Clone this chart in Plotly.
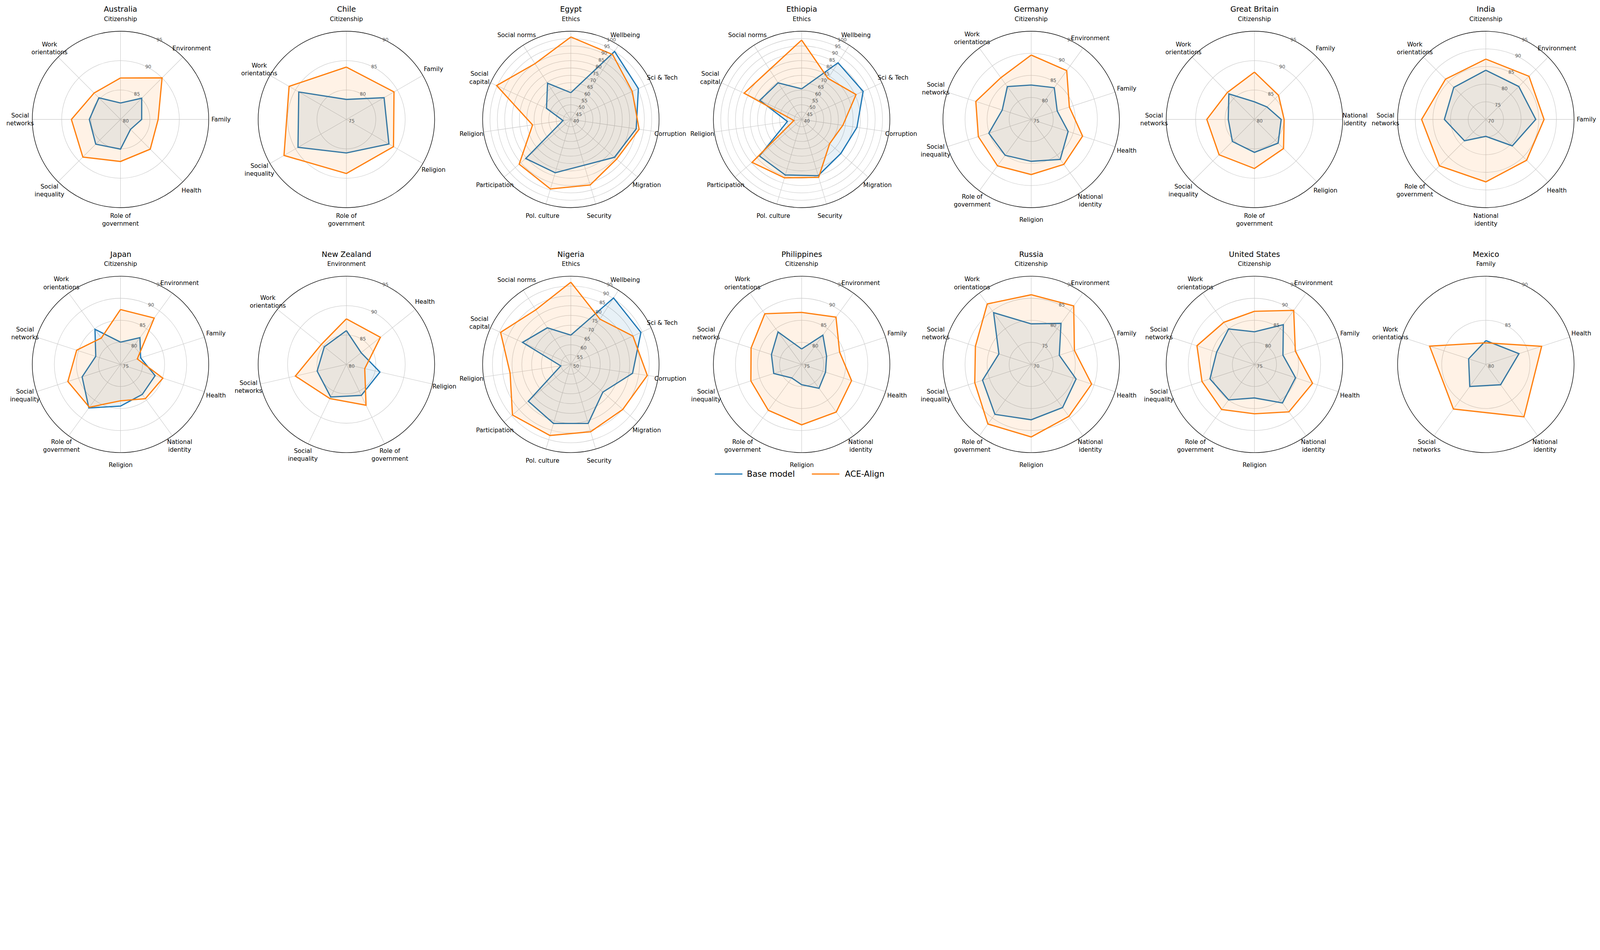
import math
import plotly.graph_objects as go

W, H = 7834, 2433

# ---------------- data ----------------
countries = ["Australia", "Chile", "Egypt", "Ethiopia", "Germany", "Great Britain", "India",
             "Japan", "New Zealand", "Nigeria", "Philippines", "Russia", "United States", "Mexico"]

cats_australia = ["Citizenship", "Environment", "Family", "Health", "Role of government",
                  "Social inequality", "Social networks", "Work orientations"]
cats_chile = ["Citizenship", "Family", "Religion", "Role of government", "Social inequality",
              "Work orientations"]
cats_wvs = ["Ethics", "Wellbeing", "Sci & Tech", "Corruption", "Migration", "Security",
            "Pol. culture", "Participation", "Religion", "Social capital", "Social norms"]
cats_issp10 = ["Citizenship", "Environment", "Family", "Health", "National identity", "Religion",
               "Role of government", "Social inequality", "Social networks", "Work orientations"]
cats_gb = ["Citizenship", "Family", "National identity", "Religion", "Role of government",
           "Social inequality", "Social networks", "Work orientations"]
cats_india = ["Citizenship", "Environment", "Family", "Health", "National identity",
              "Role of government", "Social networks", "Work orientations"]
cats_nz = ["Environment", "Health", "Religion", "Role of government", "Social inequality",
           "Social networks", "Work orientations"]
cats_mexico = ["Family", "Health", "National identity", "Social networks", "Work orientations"]

base_australia = [82.8, 85.1, 83.6, 82.4, 85.05, 85.95, 85.3, 85.2]
ace_australia = [87.05, 90.0, 86.4, 87.15, 87.15, 89.05, 88.35, 86.35]
base_chile = [78.4, 82.4, 83.35, 80.7, 84.5, 84.35]
ace_chile = [83.9, 84.35, 84.25, 84.2, 87.25, 86.25]
base_egypt = [58.2, 95.0, 90.5, 84.9, 79.3, 72.4, 77.8, 80.6, 45.4, 58.2, 69.3]
ace_egypt = [96.1, 92.5, 85.9, 86.9, 81.2, 86.5, 89.3, 86.5, 66.3, 95.5, 85.1]
base_ethiopia = [60.8, 85.8, 86.0, 78.0, 75.3, 79.9, 79.4, 78.0, 49.8, 71.3, 69.6]
ace_ethiopia = [94.0, 73.2, 80.7, 68.3, 65.2, 81.1, 81.4, 84.6, 45.3, 83.0, 80.3]
base_germany = [82.8, 83.9, 81.2, 83.8, 86.2, 84.5, 85.05, 85.1, 81.9, 84.2]
ace_germany = [89.6, 88.7, 84.1, 87.25, 87.6, 87.5, 88.0, 87.6, 88.2, 86.7]
base_gb = [83.0, 83.0, 84.55, 85.7, 85.6, 85.3, 84.45, 86.15]
ace_gb = [88.05, 85.8, 85.05, 87.0, 88.35, 88.5, 88.1, 86.5]
base_india = [83.95, 83.2, 84.15, 80.6, 74.8, 78.55, 81.75, 82.85]
ace_india = [87.1, 87.3, 86.5, 86.35, 87.7, 88.6, 88.2, 86.15]
base_japan = [80.05, 82.5, 79.8, 83.25, 83.4, 84.45, 87.2, 84.15, 80.9, 84.85]
ace_japan = [87.45, 88.0, 79.0, 85.1, 84.6, 83.25, 87.0, 87.55, 85.45, 82.4]
base_nz = [85.75, 83.2, 85.85, 85.85, 86.15, 85.1, 84.8]
ace_nz = [87.75, 87.4, 83.2, 87.7, 86.45, 88.9, 85.45]
base_nigeria = [64.95, 90.3, 89.3, 81.8, 71.6, 81.4, 81.4, 78.7, 55.2, 77.1, 72.2]
ace_nigeria = [91.95, 77.45, 84.8, 89.4, 85.05, 85.8, 87.8, 89.4, 81.3, 89.4, 83.1]
base_philippines = [78.5, 83.2, 80.95, 80.7, 81.7, 79.6, 78.8, 81.65, 82.2, 84.1]
ace_philippines = [86.8, 88.25, 84.05, 86.9, 88.35, 88.7, 87.85, 87.1, 87.05, 89.2]
base_russia = [79.2, 81.5, 76.7, 80.7, 82.1, 82.55, 84.0, 81.6, 77.7, 84.5]
ace_russia = [85.8, 86.4, 80.3, 84.4, 84.55, 86.45, 86.7, 83.45, 83.3, 86.95]
base_us = [82.4, 86.15, 81.8, 84.8, 85.8, 82.6, 84.95, 85.6, 84.0, 84.95]
ace_us = [87.05, 90.15, 84.75, 88.85, 88.3, 86.2, 87.65, 87.5, 88.7, 86.8]
base_mexico = [82.7, 83.95, 82.85, 83.1, 82.05]
ace_mexico = [82.45, 86.65, 87.35, 86.25, 86.7]

radial_min = [80, 75, 40, 40, 75, 80, 70, 75, 80, 50, 75, 70, 75, 80]
radial_max = [95, 90, 100, 100, 95, 95, 95, 95, 95, 95, 95, 90, 95, 90]

series_names = ["Base model", "ACE-Align"]

# ---------------- assembly ----------------
panels = [
    (cats_australia, base_australia, ace_australia),
    (cats_chile, base_chile, ace_chile),
    (cats_wvs, base_egypt, ace_egypt),
    (cats_wvs, base_ethiopia, ace_ethiopia),
    (cats_issp10, base_germany, ace_germany),
    (cats_gb, base_gb, ace_gb),
    (cats_india, base_india, ace_india),
    (cats_issp10, base_japan, ace_japan),
    (cats_nz, base_nz, ace_nz),
    (cats_wvs, base_nigeria, ace_nigeria),
    (cats_issp10, base_philippines, ace_philippines),
    (cats_issp10, base_russia, ace_russia),
    (cats_issp10, base_us, ace_us),
    (cats_mexico, base_mexico, ace_mexico),
]

FONT = "DejaVu Sans"
BLUE = "#1f77b4"
ORANGE = "#ff7f0e"
FILLS = ["rgba(31,119,180,0.10)", "rgba(255,127,14,0.10)"]
COLORS = [BLUE, ORANGE]

col_cx = [590, 1696, 2795, 3925, 5049, 6142, 7275]
row_cy = [585, 1785]
R = 432
LABEL_R = 492
TITLE_DY = 540

wrap = {
    "Work orientations": "Work<br>orientations",
    "Social networks": "Social<br>networks",
    "Social inequality": "Social<br>inequality",
    "Role of government": "Role of<br>government",
    "National identity": "National<br>identity",
    "Social capital": "Social<br>capital",
}

fig = go.Figure()
annotations = []
shapes = []
layout_polars = {}

for k, (country, (cats, base, ace)) in enumerate(zip(countries, panels)):
    row, col = divmod(k, 7)
    cx, cy = col_cx[col], row_cy[row]
    pname = "polar" if k == 0 else f"polar{k + 1}"
    rmin, rmax = radial_min[k], radial_max[k]

    for s, vals in enumerate([base, ace]):
        fig.add_trace(go.Scatterpolar(
            r=list(vals) + [vals[0]],
            theta=list(cats) + [cats[0]],
            mode="lines",
            line=dict(color=COLORS[s], width=6),
            fill="toself",
            fillcolor=FILLS[s],
            name=series_names[s],
            legendgroup=series_names[s],
            showlegend=False,
            subplot=pname,
        ))

    ticks = list(range(rmin, rmax + 1, 5))
    layout_polars[pname] = dict(
        domain=dict(x=[(cx - R) / W, (cx + R) / W], y=[1 - (cy + R) / H, 1 - (cy - R) / H]),
        bgcolor="white",
        angularaxis=dict(
            type="category", categoryarray=cats, rotation=90, direction="clockwise",
            showticklabels=False, ticks="", showline=True, linecolor="black", linewidth=2.6,
            showgrid=True, gridcolor="#c6c6c6", gridwidth=2,
        ),
        radialaxis=dict(
            range=[rmin, rmax], tickvals=ticks, ticktext=[str(t) for t in ticks],
            showline=False, ticks="", angle=67.5, tickangle=67.5,
            tickfont=dict(family=FONT, size=23, color="#555555"),
            showgrid=True, gridcolor="#c6c6c6", gridwidth=2,
        ),
    )

    annotations.append(dict(
        text=country, x=cx / W, y=1 - (cy - TITLE_DY) / H, xref="paper", yref="paper",
        showarrow=False, xanchor="center", yanchor="middle",
        font=dict(family=FONT, size=37, color="black"),
    ))
    n = len(cats)
    for i, c in enumerate(cats):
        ang = math.radians(360.0 * i / n)
        px = cx + LABEL_R * math.sin(ang)
        py = cy - LABEL_R * math.cos(ang)
        annotations.append(dict(
            text=wrap.get(c, c), x=px / W, y=1 - py / H, xref="paper", yref="paper",
            showarrow=False, xanchor="center", yanchor="middle", align="center",
            font=dict(family=FONT, size=29.5, color="black"),
        ))

# figure-level legend (matplotlib style: long line handles, no frame)
legend_y = 1 - 2322 / H
legend_handle_x = [(3500, 3635), (3975, 4110)]
legend_text_x = [3655, 4135]
for s in range(2):
    x0, x1 = legend_handle_x[s]
    shapes.append(dict(
        type="line", xref="paper", yref="paper", x0=x0 / W, x1=x1 / W, y0=legend_y, y1=legend_y,
        line=dict(color=COLORS[s], width=6),
    ))
    annotations.append(dict(
        text=series_names[s], x=legend_text_x[s] / W, y=legend_y, xref="paper", yref="paper",
        showarrow=False, xanchor="left", yanchor="middle",
        font=dict(family=FONT, size=40, color="black"),
    ))

fig.update_layout(
    width=W, height=H,
    margin=dict(l=0, r=0, t=0, b=0),
    paper_bgcolor="white",
    font=dict(family=FONT, color="black"),
    annotations=annotations,
    shapes=shapes,
    showlegend=False,
    **layout_polars,
)

# fit the fixed-size figure into whatever CSS viewport the browser provides
fit_js = (
    "document.documentElement.style.margin='0';"
    "document.body.style.margin='0';"
    "document.body.style.overflow='hidden';"
    "var s=Math.min(window.innerWidth/%d, window.innerHeight/%d);"
    "if(s<1){document.body.style.zoom=s;}" % (W, H)
)

fig.write_html("out.html", post_script=fit_js, config={"displayModeBar": False})
